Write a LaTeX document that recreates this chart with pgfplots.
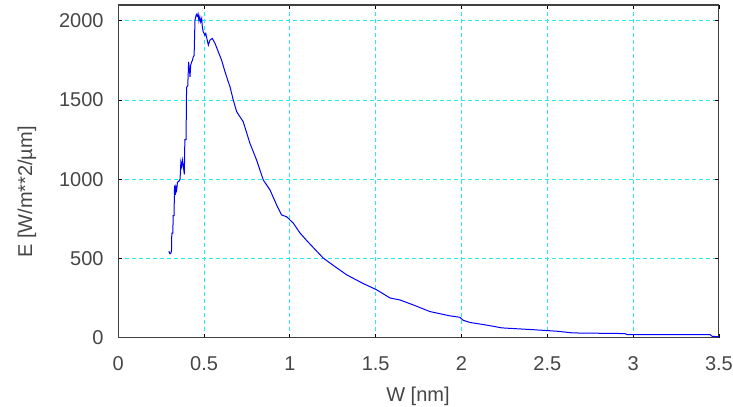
\documentclass[border=0pt]{standalone}
\usepackage{fontspec}
\setmainfont{Liberation Sans}
\usepackage{pgfplots}
\pgfplotsset{compat=1.18}
\definecolor{txt}{RGB}{70,70,70}
\definecolor{gridc}{RGB}{40,235,235}
\begin{document}
\begin{tikzpicture}[x=1pt,y=1pt]
\path[use as bounding box] (0,0) rectangle (549.75,305.25);
\begin{axis}[
  at={(88.7pt,52.1pt)}, anchor=south west,
  scale only axis, width=450.5pt, height=249.4pt,
  xmin=0, xmax=3.5, ymin=0, ymax=2100,
  xtick={0,0.5,1,1.5,2,2.5,3,3.5},
  ytick={0,500,1000,1500,2000},
  xticklabels={0,0.5,1,1.5,2,2.5,3,3.5},
  yticklabels={0,500,1000,1500,2000},
  tick align=inside, tick pos=both,
  major tick length=3pt,
  tick style={black, line width=0.6pt},
  axis line style={black!75, line width=0.8pt},
  grid=major,
  major grid style={gridc, dash pattern=on 3pt off 2.25pt, line width=0.7pt},
  ticklabel style={font=\fontsize{15}{17}\selectfont, text=txt},
  xticklabel style={yshift=-11pt},
  yticklabel style={xshift=-7.5pt},
  xlabel={W [nm]}, ylabel={E [W/m**2/µm]},
  label style={font=\fontsize{15}{17}\selectfont, text=txt},
  x label style={at={(axis description cs:0.499,-0.178)}, anchor=center},
  y label style={at={(axis description cs:-0.152,0.4376)}, anchor=center, rotate=0},
]
\addplot[blue, line width=0.75pt, mark=none] coordinates {
(0.295,545) (0.300,530) (0.305,530) (0.310,545) (0.312,660) (0.318,660)
(0.320,770) (0.325,770) (0.328,960) (0.332,900) (0.336,950) (0.340,930)
(0.345,980) (0.355,990) (0.360,1000) (0.365,1110) (0.370,1080) (0.375,1120)
(0.385,1030) (0.388,1250) (0.395,1250) (0.398,1580) (0.405,1590) (0.410,1740)
(0.414,1700) (0.418,1647) (0.422,1720) (0.428,1741) (0.432,1750) (0.437,1773)
(0.442,1780) (0.447,2004) (0.455,2040) (0.460,2030) (0.465,2045) (0.470,2000)
(0.475,2025) (0.480,1994) (0.486,2015) (0.490,1960) (0.495,1931) (0.505,1910)
(0.510,1920) (0.520,1870) (0.525,1847) (0.534,1878) (0.548,1889) (0.564,1857)
(0.583,1804) (0.602,1752) (0.622,1678) (0.641,1615) (0.651,1584) (0.670,1500)
(0.690,1426) (0.728,1363) (0.767,1227) (0.806,1121) (0.845,995) (0.884,932)
(0.923,837) (0.952,774) (0.981,763) (1.020,722) (1.059,660) (1.100,610)
(1.195,501) (1.260,450) (1.331,396) (1.420,345) (1.506,301) (1.544,276)
(1.583,250) (1.642,237) (1.719,206) (1.816,164) (1.932,137) (1.990,128)
(2.010,109) (2.050,95) (2.127,82) (2.185,71) (2.234,61) (2.410,50)
(2.555,40) (2.650,29) (2.953,25) (2.963,19) (3.448,19) (3.460,8) (3.500,5)
};
\end{axis}
\end{tikzpicture}
\end{document}
